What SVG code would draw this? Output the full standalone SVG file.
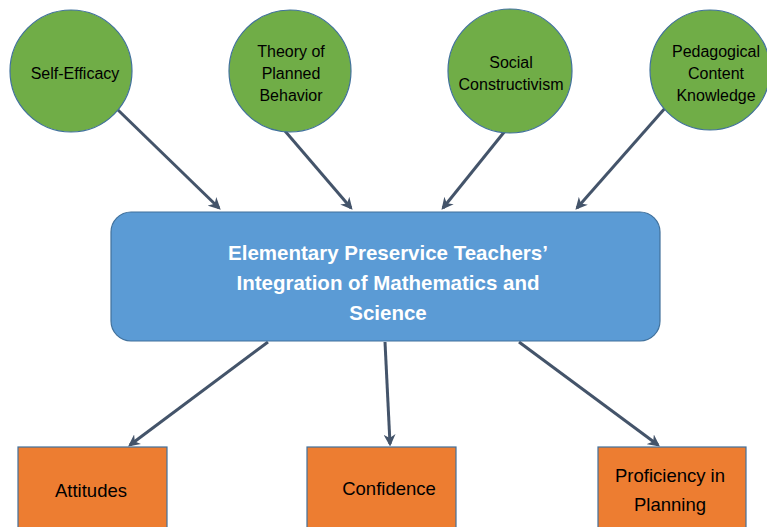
<svg xmlns="http://www.w3.org/2000/svg" width="767" height="527" viewBox="0 0 767 527">
  <defs>
    <marker id="arrow" viewBox="0 0 10 10" refX="8" refY="5" markerWidth="4" markerHeight="4" orient="auto" markerUnits="strokeWidth">
      <path d="M0,0 L10,5 L0,10 L3,5 Z" fill="#44546a"/>
    </marker>
    <style>
      .theory { fill: #70ad47; stroke: #41719c; stroke-width: 1.2; }
      .core { fill: #5b9bd5; stroke: #41719c; stroke-width: 1.2; }
      .outcome { fill: #ed7d31; stroke: #41719c; stroke-width: 1.2; }
      .label { font-family: "Liberation Sans", Arial, sans-serif; font-size: 16px; fill: #000; text-anchor: middle; }
      .big { font-size: 18.5px; }
      .title { font-family: "Liberation Sans", Arial, sans-serif; font-size: 20.5px; font-weight: bold; fill: #fff; text-anchor: middle; }
      .link { stroke: #44546a; stroke-width: 3; fill: none; marker-end: url(#arrow); }
    </style>
  </defs>
  <rect width="767" height="527" fill="#fff"/>

  <!-- arrows from the four theories into the centre box, then out to the three outcomes -->
  <g id="connectors">
    <line class="link" x1="118" y1="110" x2="219" y2="208"/>
    <line class="link" x1="285" y1="131" x2="351" y2="208"/>
    <line class="link" x1="505" y1="131" x2="443" y2="208"/>
    <line class="link" x1="666" y1="107" x2="577" y2="208"/>
    <line class="link" x1="268" y1="342" x2="130" y2="445"/>
    <line class="link" x1="385" y1="342" x2="390" y2="444"/>
    <line class="link" x1="519" y1="342" x2="658" y2="445"/>
  </g>

  <g id="self-efficacy">
    <circle class="theory" cx="71" cy="71" r="61"/>
    <text class="label" x="75" y="79">Self-Efficacy</text>
  </g>

  <g id="planned-behavior">
    <circle class="theory" cx="290" cy="71" r="61"/>
    <text class="label" x="291" y="57">Theory of</text>
    <text class="label" x="291" y="79">Planned</text>
    <text class="label" x="291" y="101">Behavior</text>
  </g>

  <g id="social-constructivism">
    <circle class="theory" cx="510" cy="71" r="62"/>
    <text class="label" x="511" y="68">Social</text>
    <text class="label" x="511" y="90">Constructivism</text>
  </g>

  <g id="pck">
    <circle class="theory" cx="710" cy="70" r="60"/>
    <text class="label" x="716" y="57">Pedagogical</text>
    <text class="label" x="716" y="79">Content</text>
    <text class="label" x="716" y="101">Knowledge</text>
  </g>

  <g id="integration">
    <rect class="core" x="111" y="212" width="549" height="129" rx="20"/>
    <text class="title" x="388" y="260">Elementary Preservice Teachers’</text>
    <text class="title" x="388" y="290">Integration of Mathematics and</text>
    <text class="title" x="388" y="320">Science</text>
  </g>

  <g id="attitudes">
    <rect class="outcome" x="18" y="447" width="149" height="90"/>
    <text class="label big" x="91" y="497">Attitudes</text>
  </g>

  <g id="confidence">
    <rect class="outcome" x="307" y="447" width="149" height="90"/>
    <text class="label big" x="389" y="495">Confidence</text>
  </g>

  <g id="proficiency">
    <rect class="outcome" x="598" y="447" width="148" height="90"/>
    <text class="label big" x="670" y="482">Proficiency in</text>
    <text class="label big" x="670" y="511">Planning</text>
  </g>
</svg>
